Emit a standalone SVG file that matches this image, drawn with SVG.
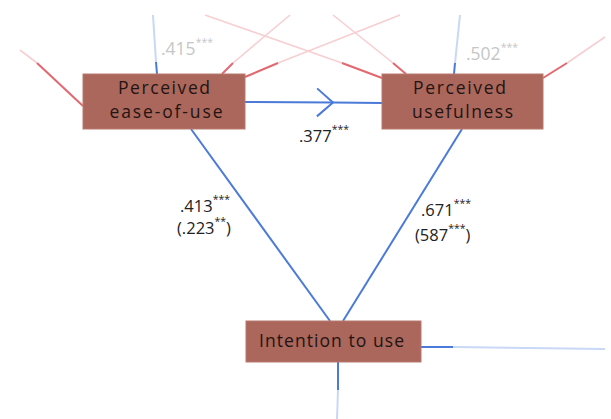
<svg xmlns="http://www.w3.org/2000/svg" width="611" height="419" viewBox="0 0 611 419">
  <style>
    .node rect { fill: #ab675b; stroke: #b97a6f; stroke-width: 1; }
    .node text { font-family: "Open Sans", Lato, sans-serif; font-size: 17.5px; fill: #231412; text-anchor: middle; }
    .b { stroke: #4b7ad8; stroke-width: 2; fill: none; }
    .bf { stroke: #c9d8f7; stroke-width: 2; fill: none; }
    .r { stroke: #e3676e; stroke-width: 2; fill: none; }
    .rf { stroke: #f7cfd2; stroke-width: 1.6; fill: none; }
    .lbl { font-family: "Open Sans", Lato, sans-serif; font-size: 16.5px; fill: #222; }
    .glbl { font-family: "Open Sans", Lato, sans-serif; font-size: 17.5px; fill: #c6c6c6; }
    .sup { font-size: 10.5px; }
  </style>
  <defs>
    <marker id="chev" markerUnits="userSpaceOnUse" viewBox="-18 -16 20 32" markerWidth="20" markerHeight="32" refX="0" refY="0" orient="auto" overflow="visible">
      <path d="M-16,-14 L0,0 L-16,14" fill="none" stroke="#4b7ad8" stroke-width="2"/>
    </marker>
  </defs>
  <rect width="611" height="419" fill="#ffffff"/>
  <g id="connectors">
    <line class="rf" x1="20" y1="50" x2="37" y2="63"/>
    <line class="r" x1="37" y1="63" x2="83" y2="106"/>
    <line class="bf" x1="153" y1="15" x2="156" y2="62"/>
    <line class="b" x1="156" y1="62" x2="157" y2="74"/>
    <line class="rf" x1="205" y1="15" x2="342" y2="63"/>
    <line class="r" x1="342" y1="63" x2="382" y2="78"/>
    <line class="rf" x1="290" y1="15" x2="233" y2="63"/>
    <line class="r" x1="233" y1="63" x2="222" y2="74"/>
    <line class="rf" x1="400" y1="15" x2="278" y2="63"/>
    <line class="r" x1="278" y1="63" x2="245" y2="77"/>
    <line class="rf" x1="333" y1="15" x2="393" y2="63"/>
    <line class="r" x1="393" y1="63" x2="406" y2="74"/>
    <line class="bf" x1="460" y1="15" x2="455" y2="63"/>
    <line class="b" x1="455" y1="63" x2="454" y2="74"/>
    <line class="rf" x1="605" y1="37" x2="567" y2="63"/>
    <line class="r" x1="567" y1="63" x2="543" y2="78"/>
    <path class="b" d="M245,102 L333,102.5 L382,103" marker-mid="url(#chev)"/>
    <line class="b" x1="191" y1="129" x2="330" y2="321"/>
    <line class="b" x1="462" y1="129" x2="343" y2="321"/>
    <line class="b" x1="421" y1="347" x2="453" y2="347"/>
    <line class="bf" x1="453" y1="347" x2="605" y2="349"/>
    <line class="b" x1="338" y1="362" x2="338" y2="390"/>
    <line class="bf" x1="338" y1="390" x2="337" y2="419"/>
  </g>
  <g id="labels">
    <text class="glbl" x="161" y="55">.415<tspan class="sup" dy="-9">***</tspan></text>
    <text class="glbl" x="466" y="60">.502<tspan class="sup" dy="-9">***</tspan></text>
    <text class="lbl" x="299" y="142">.377<tspan class="sup" dy="-9">***</tspan></text>
    <text class="lbl" x="180" y="212">.413<tspan class="sup" dy="-9">***</tspan></text>
    <text class="lbl" x="177" y="234">(.223<tspan class="sup" dy="-9">**</tspan><tspan dy="9">)</tspan></text>
    <text class="lbl" x="421" y="216">.671<tspan class="sup" dy="-9">***</tspan></text>
    <text class="lbl" x="415" y="241">(587<tspan class="sup" dy="-9">***</tspan><tspan dy="9">)</tspan></text>
  </g>
  <g id="peou" class="node">
    <rect x="83" y="74" width="162" height="55"/>
    <text x="164" y="94" textLength="92">Perceived</text>
    <text x="166" y="118" textLength="113">ease-of-use</text>
  </g>
  <g id="pu" class="node">
    <rect x="382" y="74" width="161" height="55"/>
    <text x="459.5" y="94" textLength="93">Perceived</text>
    <text x="462.5" y="118" textLength="101">usefulness</text>
  </g>
  <g id="itu" class="node">
    <rect x="246" y="321" width="175" height="41"/>
    <text x="331.5" y="347" textLength="145">Intention to use</text>
  </g>
</svg>
